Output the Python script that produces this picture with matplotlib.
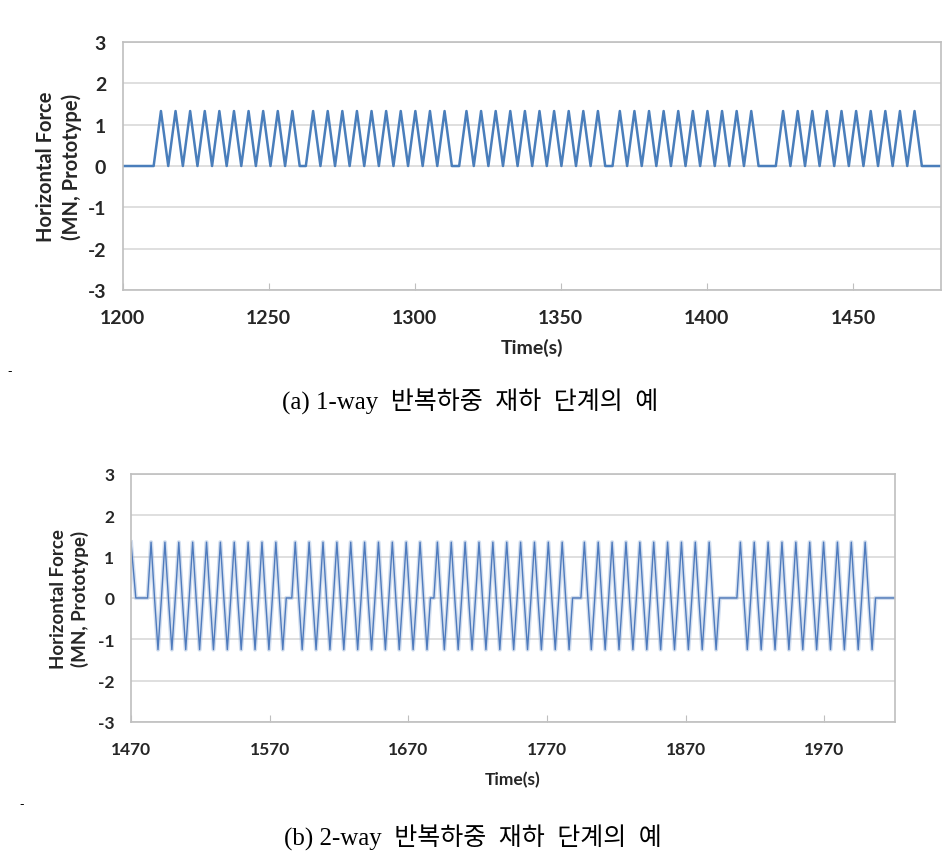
import matplotlib
matplotlib.use("Agg")
import matplotlib.pyplot as plt
import numpy as np

plt.rcParams["axes.unicode_minus"] = False

# (a) 1-way loading: groups of triangular cycles, 0 -> peak -> 0
TOP_XLIM = (1200, 1480)
TOP_XTICKS = [1200, 1250, 1300, 1350, 1400, 1450]
TOP_GROUP_START = [1210.6, 1262.7, 1315.2, 1367.7, 1423.6]
TOP_CYCLES = [10, 10, 10, 10, 10]
TOP_PERIOD = 5.0
TOP_PEAK = 1.33

# (b) 2-way loading: 0 -> +peak -> 0 -> -peak -> 0
BOT_XLIM = (1470, 2021)
BOT_XTICKS = [1470, 1570, 1670, 1770, 1870, 1970]
BOT_LEAD_IN = [(1470, 1.35), (1473.5, 0.0)]
BOT_GROUP_START = [1482.0, 1586.0, 1688.5, 1794.5, 1907.0]
BOT_CYCLES = [10, 10, 10, 10, 10]
BOT_PERIOD = 10.0
BOT_POS_PEAK = 1.35
BOT_NEG_PEAK = -1.25

YTICKS = [-3, -2, -1, 0, 1, 2, 3]
Y_LABEL = "Horizontal Force\n(MN, Prototype)"
X_LABEL = "Time(s)"
CAPTION_A = "(a) 1-way  반복하중  재하  단계의  예"
CAPTION_B = "(b) 2-way  반복하중  재하  단계의  예"

LINE_COLOR = "#4a7ebb"
LABEL_FONT = ["Lato", "DejaVu Sans"]
CAPTION_FONT = ["Liberation Serif", "Noto Sans CJK KR"]


def one_way_series():
    xs, ys = [TOP_XLIM[0]], [0.0]
    for start, n in zip(TOP_GROUP_START, TOP_CYCLES):
        xs.append(start)
        ys.append(0.0)
        for k in range(n):
            t0 = start + k * TOP_PERIOD
            xs += [t0 + TOP_PERIOD / 2, t0 + TOP_PERIOD]
            ys += [TOP_PEAK, 0.0]
    xs.append(TOP_XLIM[1])
    ys.append(0.0)
    return np.array(xs), np.array(ys)


def two_way_series():
    xs = [p[0] for p in BOT_LEAD_IN]
    ys = [p[1] for p in BOT_LEAD_IN]
    q = BOT_PERIOD / 4
    for start, n in zip(BOT_GROUP_START, BOT_CYCLES):
        xs.append(start)
        ys.append(0.0)
        for k in range(n):
            t0 = start + k * BOT_PERIOD
            xs += [t0 + q, t0 + 2 * q, t0 + 3 * q, t0 + 4 * q]
            ys += [BOT_POS_PEAK, 0.0, BOT_NEG_PEAK, 0.0]
    xs.append(BOT_XLIM[1])
    ys.append(0.0)
    return np.array(xs), np.array(ys)


def style_axes(ax, xlim, xticks, tick_size):
    ax.set_xlim(*xlim)
    ax.set_ylim(-3, 3)
    ax.set_xticks(xticks)
    ax.set_yticks(YTICKS)
    ax.grid(axis="y", color="#d9d9d9", linewidth=1.2)
    ax.set_axisbelow(True)
    for sp in ax.spines.values():
        sp.set_color("#bfbfbf")
        sp.set_linewidth(1.2)
    ax.tick_params(axis="x", direction="in", length=5, color="#bfbfbf", pad=14)
    ax.tick_params(axis="y", length=0, pad=12)
    for lab in ax.get_xticklabels() + ax.get_yticklabels():
        lab.set_family(LABEL_FONT)
        lab.set_fontweight("bold")
        lab.set_fontsize(tick_size)
        lab.set_color("#262626")


fig = plt.figure(figsize=(9.51, 8.62), dpi=100)

ax1 = fig.add_axes([0.129, 0.6624, 0.860, 0.2877])
x1, y1 = one_way_series()
ax1.plot(x1, y1, color=LINE_COLOR, linewidth=1.8)
style_axes(ax1, TOP_XLIM, TOP_XTICKS, 14)
ax1.set_ylabel(Y_LABEL, family=LABEL_FONT, fontweight="bold", fontsize=14.5,
               color="#262626", linespacing=1.3, labelpad=4)
ax1.set_xlabel(X_LABEL, family=LABEL_FONT, fontweight="bold", fontsize=14,
               color="#262626", labelpad=8)

ax2 = fig.add_axes([0.1377, 0.1613, 0.8034, 0.2877])
x2, y2 = two_way_series()
ax2.plot(x2, y2, color="#9db7dc", linewidth=3.0, alpha=0.45)
ax2.plot(x2, y2, color="#4f7bbd", linewidth=1.0)
style_axes(ax2, BOT_XLIM, BOT_XTICKS, 12.5)
ax2.set_ylabel(Y_LABEL, family=LABEL_FONT, fontweight="bold", fontsize=13.5,
               color="#262626", linespacing=1.3, labelpad=6)
ax2.set_xlabel(X_LABEL, family=LABEL_FONT, fontweight="bold", fontsize=12.5,
               color="#262626", labelpad=10)

fig.text(0.494, 1 - 402 / 862, CAPTION_A, family=CAPTION_FONT, fontsize=18,
         ha="center", va="center", color="black")
fig.text(0.497, 1 - 838 / 862, CAPTION_B, family=CAPTION_FONT, fontsize=18,
         ha="center", va="center", color="black")
fig.text(10 / 951, 1 - 372 / 862, "-", fontsize=9, ha="center", va="center")
fig.text(22 / 951, 1 - 805 / 862, "-", fontsize=9, ha="center", va="center")

fig.savefig("out.png", dpi=100)
